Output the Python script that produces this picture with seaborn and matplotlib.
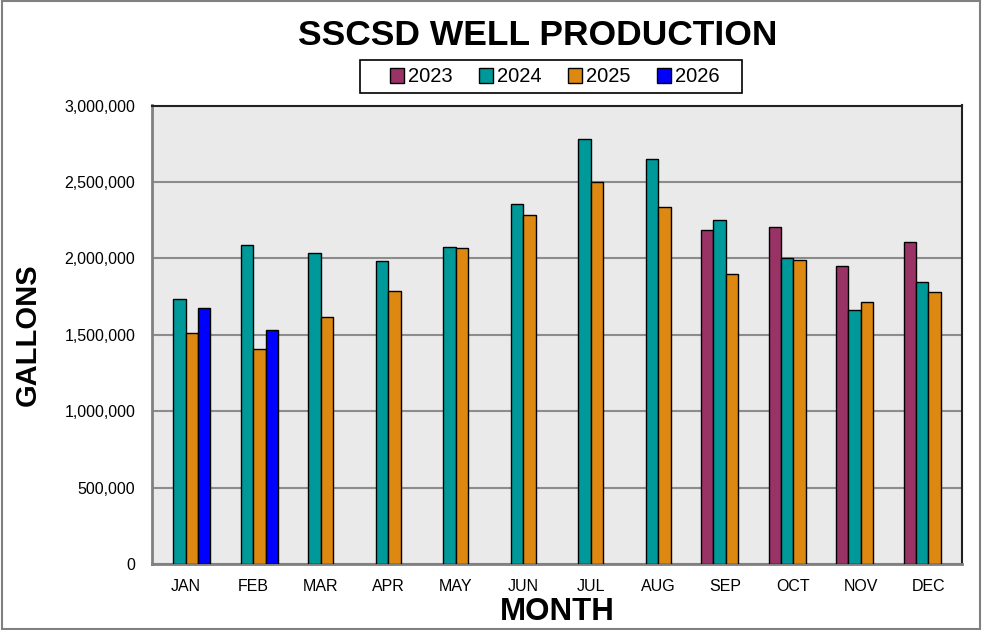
import matplotlib
matplotlib.use("Agg")
import matplotlib.pyplot as plt
import seaborn as sns
import pandas as pd
import numpy as np
from matplotlib.ticker import FuncFormatter
from matplotlib.patches import Rectangle

months = ["JAN", "FEB", "MAR", "APR", "MAY", "JUN", "JUL", "AUG", "SEP", "OCT", "NOV", "DEC"]
years = ["2023", "2024", "2025", "2026"]
g2023 = [np.nan, np.nan, np.nan, np.nan, np.nan, np.nan, np.nan, np.nan, 2184000, 2206000, 1950000, 2104000]
g2024 = [1734000, 2090000, 2033000, 1985000, 2077000, 2356000, 2782000, 2647000, 2250000, 1999000, 1665000, 1844000]
g2025 = [1509000, 1409000, 1614000, 1785000, 2066000, 2282000, 2500000, 2335000, 1898000, 1992000, 1715000, 1778000]
g2026 = [1678000, 1529000] + [np.nan] * 10
colors = ["#993366", "#009999", "#DD8811", "#0000FF"]

rows = []
for yr, vals in zip(years, [g2023, g2024, g2025, g2026]):
    for m, v in zip(months, vals):
        rows.append({"Month": m, "Year": yr, "Gallons": v})
df = pd.DataFrame(rows)

sns.set_theme(style="white")
plt.rcParams["font.family"] = ["Liberation Sans", "DejaVu Sans"]
plt.rcParams["text.color"] = "black"
plt.rcParams["axes.labelcolor"] = "black"
plt.rcParams["xtick.color"] = "black"
plt.rcParams["ytick.color"] = "black"

fig = plt.figure(figsize=(9.82, 6.30), dpi=100)
ax = fig.add_axes([152 / 982, (630 - 564) / 630, (962 - 152) / 982, (564 - 105.5) / 630])
ax.set_facecolor("#EAEAEA")

sns.barplot(data=df, x="Month", y="Gallons", hue="Year", order=months, hue_order=years,
            palette=colors, width=0.73, edgecolor="black", linewidth=1.0, ax=ax,
            saturation=1, legend=False, zorder=3)

ax.set_ylim(0, 3000000)
ax.set_yticks(np.arange(0, 3000001, 500000))
ax.yaxis.set_major_formatter(FuncFormatter(lambda v, p: f"{int(v):,}"))
ax.grid(axis="y", color="#8C8C8C", linewidth=1.5, zorder=0)
ax.set_axisbelow(True)
ax.tick_params(axis="both", labelsize=11.5, colors="black", length=0)
ax.tick_params(axis="x", pad=11)
ax.tick_params(axis="y", pad=12)
ax.set_xlabel("MONTH", fontsize=22.5, fontweight="bold", labelpad=2, color="black")
ax.set_ylabel("GALLONS", fontsize=21, fontweight="bold", labelpad=16, color="black")

for side in ["left", "bottom"]:
    ax.spines[side].set_color("#808080")
    ax.spines[side].set_linewidth(2)
for side in ["top", "right"]:
    ax.spines[side].set_color("#222222")
    ax.spines[side].set_linewidth(1.5)

fig.text(0.548, 0.943, "SSCSD WELL PRODUCTION", ha="center", va="center",
         fontsize=25.5, fontweight="bold", color="black")

handles = [Rectangle((0, 0), 1, 1, facecolor=c, edgecolor="black", linewidth=1) for c in colors]
leg = fig.legend(handles, years, loc="center", bbox_to_anchor=(555 / 982, 1 - 77 / 630), ncol=4,
                 fontsize=14.5, frameon=False, handlelength=0.7, handleheight=0.7,
                 handletextpad=0.2, columnspacing=1.3, borderpad=0.3)
for t in leg.get_texts():
    t.set_color("black")

fig.patches.append(Rectangle((360 / 982, 1 - 93 / 630), (742 - 360) / 982, 33 / 630,
                             transform=fig.transFigure, fill=False, edgecolor="black", linewidth=1.2))

fig.patches.append(Rectangle((0.002, 0.002), 0.996, 0.996, transform=fig.transFigure,
                             fill=False, edgecolor="#808080", linewidth=1.5))

fig.savefig("out.png", dpi=100)
